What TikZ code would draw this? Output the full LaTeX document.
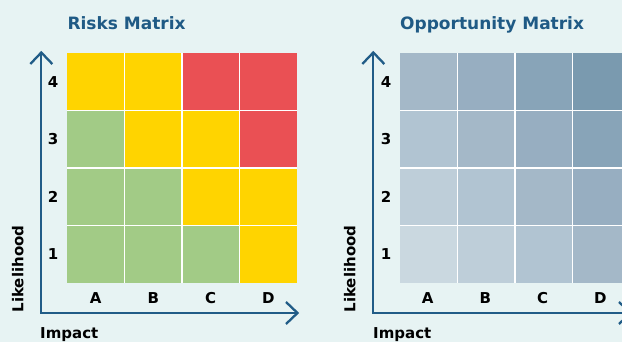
\documentclass[tikz,border=0pt]{standalone}
\usepackage{fontspec}
\setmainfont{DejaVu Sans}
\definecolor{bgc}{HTML}{E7F3F3}
\definecolor{axisc}{HTML}{215C87}
\definecolor{titlec}{HTML}{1F5A85}
\definecolor{cY}{HTML}{FFD400}
\definecolor{cR}{HTML}{EA5054}
\definecolor{cG}{HTML}{A2CB86}
\definecolor{s0}{HTML}{CAD8E0}
\definecolor{s1}{HTML}{BECED9}
\definecolor{s2}{HTML}{B1C4D2}
\definecolor{s3}{HTML}{A4B8C8}
\definecolor{s4}{HTML}{97AEC1}
\definecolor{s5}{HTML}{88A4B8}
\definecolor{s6}{HTML}{7A9AAF}
\tikzset{
  titletext/.style={font=\fontsize{17}{20}\selectfont\bfseries, text=titlec, inner sep=0pt, anchor=base west},
  labeltext/.style={font=\fontsize{15}{18}\selectfont\bfseries, text=black, inner sep=0pt},
  axisline/.style={draw=axisc, line width=2.3pt, line join=miter},
  gridline/.style={draw=white, line width=1.6pt},
}
\begin{document}
\begin{tikzpicture}[x=1pt,y=1pt]
\fill[bgc] (0,0) rectangle (622,342);
\useasboundingbox (0,0) rectangle (622,342);
\clip (0,0) rectangle (622,342);
% ---------- Risks matrix ----------
\foreach \c/\r/\col in {0/0/cG,1/0/cG,2/0/cG,3/0/cY,
                       0/1/cG,1/1/cG,2/1/cY,3/1/cY,
                       0/2/cG,1/2/cY,2/2/cY,3/2/cR,
                       0/3/cY,1/3/cY,2/3/cR,3/3/cR}{
  \fill[\col] ({67+57.5*\c},{59+57.5*\r}) rectangle ++(57.5,57.5);
}
\foreach \i in {1,2,3}{
  \draw[gridline] ({67+57.5*\i},59) -- ({67+57.5*\i},289);
  \draw[gridline] (67,{59+57.5*\i}) -- (297,{59+57.5*\i});
}
\coordinate (Lo) at (41.3,29);
\coordinate (Ly) at (41.3,289.5);
\coordinate (Lx) at (297.5,29);
\draw[axisline] (Ly) -- (Lo) -- (Lx);
\draw[axisline] ([shift={(-11,-11.5)}]Ly) -- (Ly) -- ([shift={(11,-11.5)}]Ly);
\draw[axisline] ([shift={(-11.5,11)}]Lx) -- (Lx) -- ([shift={(-11.5,-11)}]Lx);
\node[titletext] (Ltitle) at (67.3,312) {Risks Matrix};
\foreach \r/\t in {0/1,1/2,2/3,3/4}{
  \node[labeltext] (Lrow\t) at (53,{87.75+57.5*\r}) {\t};
}
\foreach \c/\t in {0/A,1/B,2/C,3/D}{
  \node[labeltext] (Lcol\t) at ({95.75+57.5*\c},44) {\t};
}
\node[labeltext, rotate=90, anchor=base] (Llik) at (23.3,73) {Likelihood};
\node[labeltext, anchor=base west] (Limp) at (40,3.7) {Impact};
% ---------- Opportunity matrix ----------
\begin{scope}[xshift=333pt]
\foreach \c in {0,1,2,3}{
  \foreach \r in {0,1,2,3}{
    \pgfmathtruncatemacro{\s}{\c+\r}
    \fill[s\s] ({67+57.5*\c},{59+57.5*\r}) rectangle ++(57.5,57.5);
  }
}
\foreach \i in {1,2,3}{
  \draw[gridline] ({67+57.5*\i},59) -- ({67+57.5*\i},289);
  \draw[gridline] (67,{59+57.5*\i}) -- (297,{59+57.5*\i});
}
\coordinate (Ro) at (40.3,29);
\coordinate (Ry) at (40.3,289.5);
\coordinate (Rx) at (297.5,29);
\draw[axisline] (Ry) -- (Ro) -- (Rx);
\draw[axisline] ([shift={(-11,-11.5)}]Ry) -- (Ry) -- ([shift={(11,-11.5)}]Ry);
\draw[axisline] ([shift={(-11.5,11)}]Rx) -- (Rx) -- ([shift={(-11.5,-11)}]Rx);
\node[titletext] (Rtitle) at (67,312) {Opportunity Matrix};
\foreach \r/\t in {0/1,1/2,2/3,3/4}{
  \node[labeltext] (Rrow\t) at (53,{87.75+57.5*\r}) {\t};
}
\foreach \c/\t in {0/A,1/B,2/C,3/D}{
  \node[labeltext] (Rcol\t) at ({94.75+57.5*\c},44) {\t};
}
\node[labeltext, rotate=90, anchor=base] (Rlik) at (22.3,73) {Likelihood};
\node[labeltext, anchor=base west] (Rimp) at (40,3.7) {Impact};
\end{scope}
\end{tikzpicture}
\end{document}
